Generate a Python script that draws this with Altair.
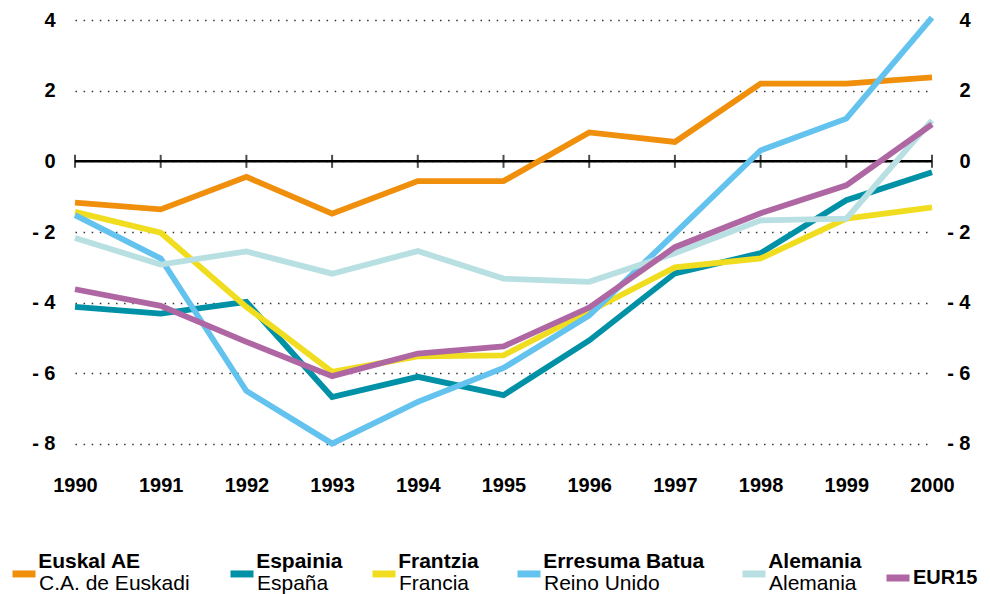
import altair as alt
import pandas as pd

years = list(range(1990, 2001))
names = ["Euskal AE", "Espainia", "Frantzia", "Erresuma Batua", "Alemania", "EUR15"]
subnames = ["C.A. de Euskadi", "España", "Francia", "Reino Unido", "Alemania", ""]
colors = ["#EF8F0B", "#0091A7", "#F0DD20", "#63C3EE", "#B8DFE1", "#AF67A3"]

euskadi = [-1.17, -1.36, -0.44, -1.48, -0.56, -0.56, 0.82, 0.55, 2.20, 2.20, 2.38]
espana = [-4.12, -4.31, -3.98, -6.67, -6.10, -6.62, -5.07, -3.17, -2.60, -1.10, -0.31]
francia = [-1.43, -2.02, -4.12, -5.96, -5.52, -5.49, -4.25, -3.00, -2.75, -1.62, -1.30]
reino = [-1.52, -2.75, -6.50, -7.99, -6.81, -5.85, -4.36, -2.04, 0.31, 1.21, 4.07]
alemania = [-2.17, -2.92, -2.55, -3.18, -2.54, -3.32, -3.41, -2.60, -1.67, -1.62, 1.16]
eur15 = [-3.62, -4.09, -5.11, -6.08, -5.44, -5.24, -4.14, -2.43, -1.47, -0.68, 1.05]
series = [euskadi, espana, francia, reino, alemania, eur15]

y_ticks = [-8, -6, -4, -2, 0, 2, 4]

rows = []
for n, s, vals in zip(names, subnames, series):
    for yr, v in zip(years, vals):
        rows.append({"year": yr, "value": v, "name": n, "sub": s if s else n})
df = pd.DataFrame(rows)

FONT = "Liberation Sans"
xscale = alt.Scale(domain=[years[0], years[-1]], nice=False, zero=False)
yscale = alt.Scale(domain=[-8.2, 4.2], nice=False, zero=False)
ylabel = "datum.value < 0 ? '- ' + abs(datum.value) : '' + datum.value"

xaxis = alt.Axis(values=years, format="d", labelFont=FONT, labelFontSize=20,
                 labelFontWeight="bold", labelColor="black", labelPadding=24,
                 domain=False, ticks=False, grid=False, labelFlush=False, title=None)
left_axis = alt.Axis(orient="left", values=y_ticks, labelExpr=ylabel, labelFont=FONT,
                     labelFontSize=20, labelFontWeight="bold", labelColor="black",
                     labelPadding=20, domain=False, ticks=False, grid=True,
                     gridColor="#333333", gridDash=[1.5, 6.6], gridWidth=1.5,
                     labelFlush=False, title=None)
right_axis = alt.Axis(orient="right", values=y_ticks, labelExpr=ylabel, labelFont=FONT,
                      labelFontSize=20, labelFontWeight="bold", labelColor="black",
                      labelAlign="right", labelPadding=38, domain=False, ticks=False,
                      grid=False, labelFlush=False, title=None)

# zero line with year ticks
zero_df = pd.DataFrame({"start": [years[0]], "end": [years[-1]], "zero": [0]})
zero_line = alt.Chart(zero_df).mark_rule(color="black", strokeWidth=2.5).encode(
    x=alt.X("start:Q", scale=xscale, title=None),
    x2="end:Q",
    y=alt.Y("zero:Q", scale=yscale, axis=right_axis, title=None),
)
tick_df = pd.DataFrame({"year": years, "zero": [0] * len(years)})
ticks = alt.Chart(tick_df).mark_tick(orient="vertical", size=13, thickness=2, color="black").encode(
    x=alt.X("year:Q", scale=xscale, axis=xaxis, title=None),
    y=alt.Y("zero:Q", scale=yscale, axis=left_axis, title=None),
)

legend_x = [-66, 152, 294, 439, 664, 808]
layers = [zero_line, ticks]
for i, (n, s, c) in enumerate(zip(names, subnames, colors)):
    has_sub = bool(s)
    label = s if has_sub else n
    legend_kwargs = dict(
        orient="none", legendX=legend_x[i], legendY=537.5 if has_sub else 550,
        labelFont=FONT, labelFontSize=21 if has_sub else 20, labelColor="black",
        labelFontWeight="normal" if has_sub else "bold",
        labelLimit=400, labelOffset=0,
        symbolType="M-1,-0.83H1" if has_sub else "M-1,0H1",
        symbolSize=529, symbolStrokeWidth=7,
        symbolStrokeColor=c, padding=0,
    )
    if has_sub:
        legend_kwargs.update(title="\u200b" + "\u00a0" * 5 + n, titleFont=FONT,
                             titleFontSize=21, titleFontWeight="bold",
                             titleColor="black", titlePadding=alt.ExprRef("-3"),
                             titleLimit=400)
    else:
        legend_kwargs.update(title=None)
    layer = alt.Chart(df).transform_filter(alt.datum.name == n).mark_line(
        strokeWidth=5.8, strokeCap="butt"
    ).encode(
        x=alt.X("year:Q", scale=xscale, title=None),
        y=alt.Y("value:Q", scale=yscale, axis=None, title=None),
        color=alt.Color("sub:N", scale=alt.Scale(domain=[label], range=[c]),
                        legend=alt.Legend(**legend_kwargs)),
    )
    layers.append(layer)

chart = alt.layer(*layers).resolve_scale(color="independent").resolve_axis(
    y="independent"
).properties(
    width=857, height=438,
    autosize=alt.AutoSizeParams(type="none"),
    padding={"left": 67, "top": 5, "right": 50, "bottom": 143},
).configure_view(strokeWidth=0)

chart.save("out.html", embed_options={"renderer": "svg", "actions": False})
